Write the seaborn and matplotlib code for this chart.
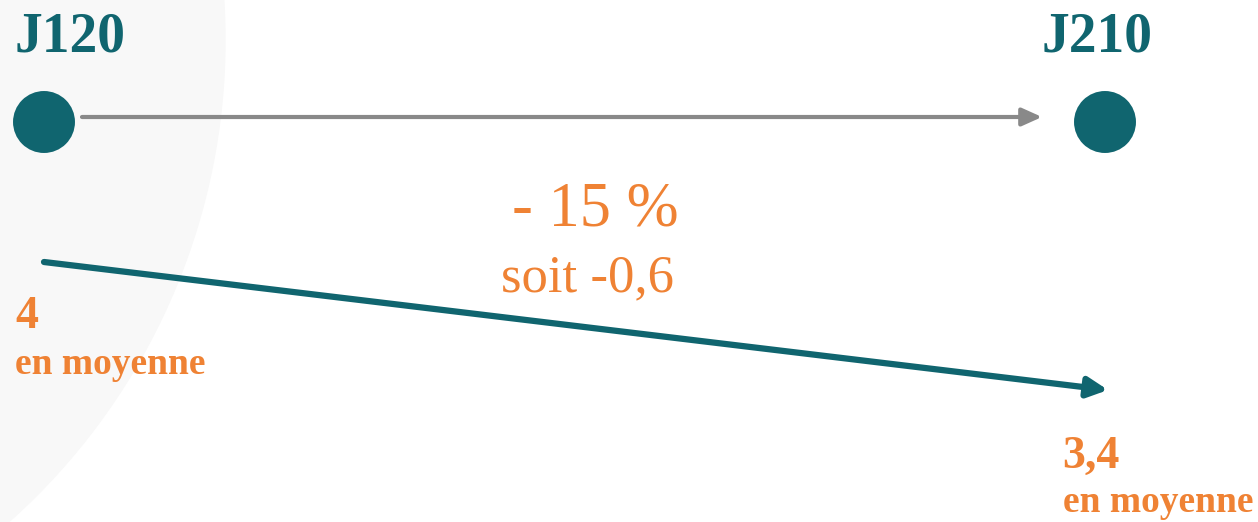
import matplotlib
matplotlib.use("Agg")
import matplotlib.pyplot as plt
from matplotlib.patches import Ellipse
import numpy as np
import pandas as pd
import seaborn as sns

# data
days = ["J120", "J210"]
means = [4.0, 3.4]
change_pct = -15
change_abs = -0.6

TEAL = "#10656f"
ORANGE = "#ef8234"
GREY = "#898989"

sns.set_theme(style="white")
plt.rcParams["font.family"] = ["Liberation Serif", "DejaVu Serif"]

W, H = 1258, 522
fig = plt.figure(figsize=(W / 100, H / 100), dpi=100, facecolor="white")
ax = fig.add_axes([0, 0, 1, 1])
ax.patch.set_alpha(0)

# x in category units, y in pixel units (top = 0)
x0_px, x1_px = 44, 1105
span = x1_px - x0_px
ax.set_xlim(-x0_px / span, (W - x0_px) / span)
ax.set_ylim(H, 0)
ax.axis("off")

# faint background disc on the left
ax.add_patch(Ellipse((-420 / W, 1 - 40 / H), 2 * 645 / W, 2 * 645 / H,
                     transform=fig.transFigure, color="#f8f8f8", zorder=0))

df = pd.DataFrame({"day": days, "pos": np.arange(len(days)), "mean": means})
dot_row = 122
df["row"] = dot_row

sns.scatterplot(data=df, x="pos", y="row", s=1990, color=TEAL, edgecolor="none",
                legend=False, ax=ax, zorder=3)

# timeline arrow between the two dots
ax.annotate("", xy=(df["pos"].iloc[1] - 63 / span, dot_row - 5),
            xytext=(df["pos"].iloc[0] + 38 / span, dot_row - 5),
            arrowprops=dict(arrowstyle="-|>,head_length=1.0,head_width=0.45",
                            color=GREY, lw=3, shrinkA=0, shrinkB=0), zorder=2)

# mean arrow: y position from mean value
def mean_row(m):
    return 262 + (means[0] - m) / 0.6 * 128

ax.annotate("", xy=(df["pos"].iloc[1] + 3 / span, mean_row(means[1])),
            xytext=(df["pos"].iloc[0], mean_row(means[0])),
            arrowprops=dict(arrowstyle="-|>,head_length=1.0,head_width=0.5",
                            color=TEAL, lw=4.5, shrinkA=0, shrinkB=0), zorder=2)

# day labels
ax.text(df["pos"].iloc[0] - 29 / span, 52, days[0], color=TEAL, fontsize=40,
        fontweight="bold", ha="left", va="baseline")
ax.text(df["pos"].iloc[1] + 48 / span, 52, days[1], color=TEAL, fontsize=40,
        fontweight="bold", ha="right", va="baseline")

# change labels
mid = df["pos"].mean()
ax.text(mid + 21 / span, 225, f"- {abs(change_pct)} %", color=ORANGE, fontsize=45,
        ha="center", va="baseline")
ax.text(mid + 13 / span, 291, f"soit {change_abs:.1f}".replace(".", ","),
        color=ORANGE, fontsize=38, ha="center", va="baseline")

# mean labels
def fmt(v):
    return f"{v:g}".replace(".", ",")

ax.text(df["pos"].iloc[0] - 29 / span, 328, fmt(means[0]), color=ORANGE,
        fontsize=33, fontweight="bold", ha="left", va="baseline")
ax.text(df["pos"].iloc[0] - 29 / span, 374, "en moyenne", color=ORANGE,
        fontsize=27, fontweight="bold", ha="left", va="baseline")
ax.text(df["pos"].iloc[1] - 43 / span, 468, fmt(means[1]), color=ORANGE,
        fontsize=33, fontweight="bold", ha="left", va="baseline")
ax.text(df["pos"].iloc[1] - 42 / span, 512, "en moyenne", color=ORANGE,
        fontsize=27, fontweight="bold", ha="left", va="baseline")

fig.savefig("out.png", dpi=100)
plt.close(fig)
